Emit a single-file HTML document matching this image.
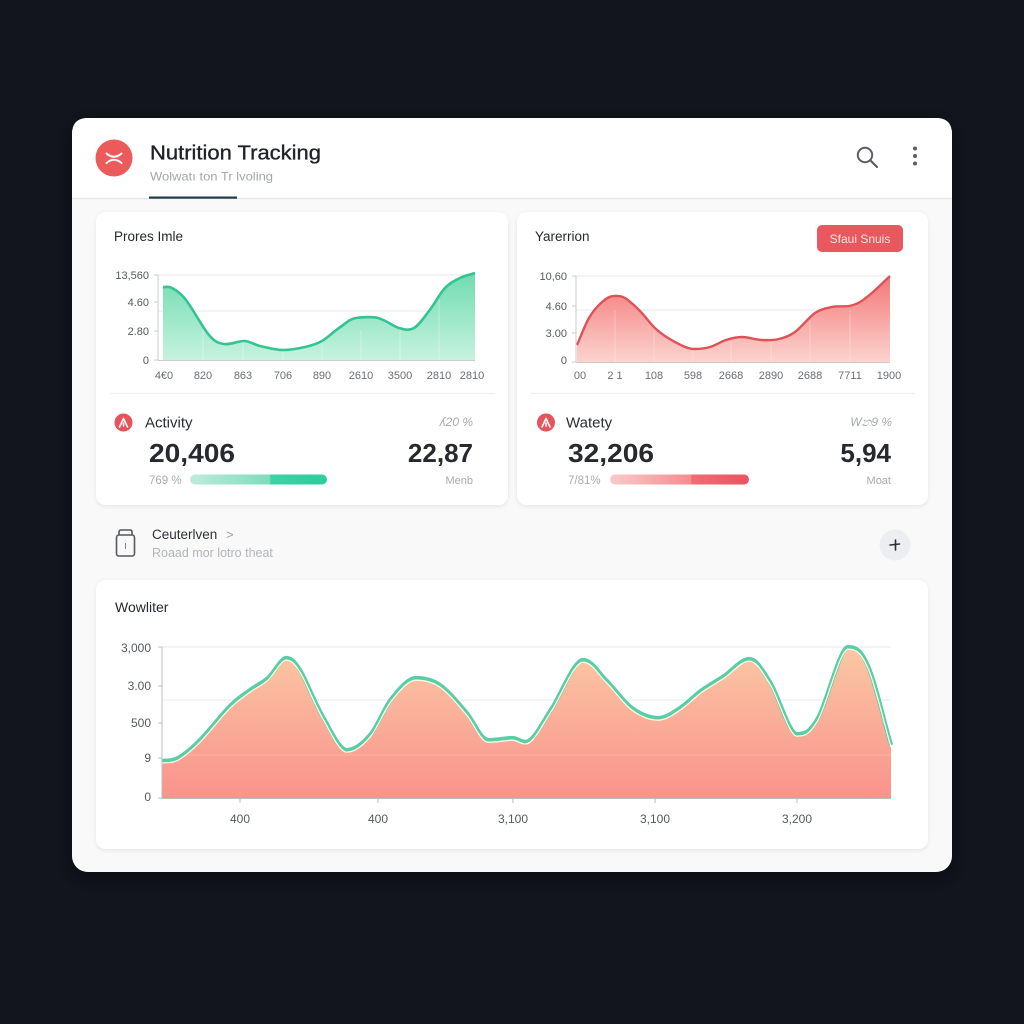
<!DOCTYPE html>
<html><head><meta charset="utf-8"><style>
html,body{margin:0;padding:0;background:#12151d;}
svg{display:block;}
text{font-family:"Liberation Sans",sans-serif;}
</style></head><body>
<svg width="1024" height="1024" viewBox="0 0 1024 1024" xmlns="http://www.w3.org/2000/svg">
<defs>
<filter id="sh" x="-10%" y="-10%" width="120%" height="130%"><feDropShadow dx="0" dy="1.5" stdDeviation="2.5" flood-color="#000" flood-opacity="0.08"/></filter>
<filter id="sh2" x="-10%" y="-10%" width="120%" height="120%"><feDropShadow dx="0" dy="6" stdDeviation="10" flood-color="#000" flood-opacity="0.5"/></filter>
<linearGradient id="gG" x1="0" y1="273" x2="0" y2="360" gradientUnits="userSpaceOnUse"><stop offset="0" stop-color="#6fdcb0"/><stop offset="1" stop-color="#c6f2df"/></linearGradient>
<linearGradient id="gR" x1="0" y1="276" x2="0" y2="362" gradientUnits="userSpaceOnUse"><stop offset="0" stop-color="#f37878"/><stop offset="1" stop-color="#fcd3ce"/></linearGradient>
<linearGradient id="gB" x1="0" y1="647" x2="0" y2="798" gradientUnits="userSpaceOnUse"><stop offset="0" stop-color="#fbc8a4"/><stop offset="1" stop-color="#fa928c"/></linearGradient>
<linearGradient id="bG" x1="0" y1="0" x2="1" y2="0"><stop offset="0" stop-color="#bdebdc"/><stop offset="0.58" stop-color="#7fdcbd"/><stop offset="0.59" stop-color="#3dd2a4"/><stop offset="1" stop-color="#2ccd9d"/></linearGradient>
<linearGradient id="bR" x1="0" y1="0" x2="1" y2="0"><stop offset="0" stop-color="#fbcaca"/><stop offset="0.58" stop-color="#f58c8f"/><stop offset="0.59" stop-color="#f06c73"/><stop offset="1" stop-color="#ea5460"/></linearGradient>
<path id="bl" d="M162,761 C167.3,760 171.7,761.5 178,758 C184.3,754.5 191.3,748.7 200,740 C208.7,731.3 221.7,714.3 230,706 C238.3,697.7 243.7,694.7 250,690 C256.3,685.3 262,683.3 268,678 C274,672.7 281,658 286,658 C291,658 294,660.5 300,670 C306,679.5 314.2,701.7 322,715 C329.8,728.3 339,750 347,750 C355,750 362.5,743.7 370,735 C377.5,726.3 384.3,707.5 392,698 C399.7,688.5 408,678 416,678 C424,678 431.7,679.3 440,685 C448.3,690.7 458,702.8 466,712 C474,721.2 480.3,739.5 488,740 C495.7,740.5 505,738 512,738 C519,738 523.3,745 530,740 C536.7,735 543.2,721.3 552,708 C560.8,694.7 574,660 583,660 C592,660 597.8,672 606,680 C614.2,688 623.3,701.7 632,708 C640.7,714.3 650,718 658,718 C666,718 672.7,712.7 680,708 C687.3,703.3 694.7,695.3 702,690 C709.3,684.7 716.2,681.2 724,676 C731.8,670.8 741.3,659 749,659 C756.7,659 762,669.5 770,682 C778,694.5 789,734 797,734 C805,734 809.5,732.5 818,718 C826.5,703.5 840,647 848,647 C856,647 860.8,649.7 868,666 C875.2,682.3 883.3,718.7 891,745"/>
</defs>

<rect x="0" y="0" width="1024" height="1024" fill="#12151d"/>
<!-- main panel -->
<rect x="72" y="118" width="880" height="754" rx="16" fill="#f9f9fa" filter="url(#sh2)"/>
<path d="M72,198 L72,134 Q72,118 88,118 L936,118 Q952,118 952,134 L952,198 Z" fill="#ffffff"/>
<line x1="72" y1="198.5" x2="952" y2="198.5" stroke="#e6e7ea" stroke-width="1.2"/>
<rect x="149" y="196.5" width="88" height="2.2" fill="#1f3b47"/>

<!-- header -->
<circle cx="114" cy="158" r="18.5" fill="#ec5b5b"/>
<path d="M106.5,153.5 Q114,160 121.5,153.5 M106.5,163 Q114,156.5 121.5,163" stroke="#fff" stroke-width="2" fill="none" stroke-linecap="round"/>
<text x="150" y="159.5" font-size="20.5" fill="#1f2226" stroke="#1f2226" stroke-width="0.35" textLength="171" lengthAdjust="spacingAndGlyphs">Nutrition Tracking</text>
<text x="150" y="180.5" font-size="12" fill="#a3a6aa" textLength="123" lengthAdjust="spacingAndGlyphs">Wolwatı ton Tr lvoling</text>
<circle cx="865" cy="155" r="7.2" fill="none" stroke="#5a5e63" stroke-width="2"/>
<line x1="870.5" y1="160.5" x2="877" y2="167" stroke="#5a5e63" stroke-width="2.2" stroke-linecap="round"/>
<circle cx="915" cy="148.5" r="2" fill="#5a5e63"/>
<circle cx="915" cy="156" r="2" fill="#5a5e63"/>
<circle cx="915" cy="163.5" r="2" fill="#5a5e63"/>

<!-- card 1 -->
<rect x="96" y="212" width="412" height="293" rx="10" fill="#fff" filter="url(#sh)"/>
<text x="114" y="241" font-size="13.5" fill="#25282c">Prores Imle</text>
<line x1="158" y1="275" x2="475" y2="275" stroke="#e6e7ea"/>
<line x1="158" y1="311" x2="475" y2="311" stroke="#e6e7ea"/>
<path d="M163,287 C166,287.3 168.2,285.8 172,288 C175.8,290.2 179.8,292.2 186,300 C192.2,307.8 202.7,327.7 209,335 C215.3,342.3 218.2,343 224,344 C229.8,345 238,341 244,341 C250,341 253.5,344.5 260,346 C266.5,347.5 275.5,350 283,350 C290.5,350 298.5,348.5 305,347 C311.5,345.5 316.3,344.2 322,341 C327.7,337.8 333.3,331.8 339,328 C344.7,324.2 349.5,318.8 356,318 C362.5,317.2 370.8,316.3 378,318 C385.2,319.7 393,326.3 399,328 C405,329.7 409,330.8 414,328 C419,325.2 423.8,317.7 429,311 C434.2,304.3 439.8,293.5 445,288 C450.2,282.5 455,280.5 460,278 C465,275.5 470,274.7 475,273 L475,360 L163,360 Z" fill="url(#gG)"/>
<g stroke="#ffffff" stroke-opacity="0.35" stroke-width="1"><line x1="203" y1="330" x2="203" y2="360"/><line x1="243" y1="340" x2="243" y2="360"/><line x1="283" y1="345" x2="283" y2="360"/><line x1="322" y1="340" x2="322" y2="360"/><line x1="361" y1="330" x2="361" y2="360"/><line x1="400" y1="330" x2="400" y2="360"/><line x1="439" y1="300" x2="439" y2="360"/></g>
<path d="M163,287 C166,287.3 168.2,285.8 172,288 C175.8,290.2 179.8,292.2 186,300 C192.2,307.8 202.7,327.7 209,335 C215.3,342.3 218.2,343 224,344 C229.8,345 238,341 244,341 C250,341 253.5,344.5 260,346 C266.5,347.5 275.5,350 283,350 C290.5,350 298.5,348.5 305,347 C311.5,345.5 316.3,344.2 322,341 C327.7,337.8 333.3,331.8 339,328 C344.7,324.2 349.5,318.8 356,318 C362.5,317.2 370.8,316.3 378,318 C385.2,319.7 393,326.3 399,328 C405,329.7 409,330.8 414,328 C419,325.2 423.8,317.7 429,311 C434.2,304.3 439.8,293.5 445,288 C450.2,282.5 455,280.5 460,278 C465,275.5 470,274.7 475,273" fill="none" stroke="#34c493" stroke-width="2.6"/>
<line x1="158" y1="275" x2="158" y2="360" stroke="#c9cbcf"/>
<line x1="158" y1="360.5" x2="475" y2="360.5" stroke="#c9cbcf"/>
<g stroke="#c9cbcf"><line x1="154" y1="275" x2="158" y2="275"/><line x1="154" y1="302" x2="158" y2="302"/><line x1="154" y1="331" x2="158" y2="331"/><line x1="154" y1="360" x2="158" y2="360"/></g>
<g font-size="11" fill="#55595e" text-anchor="end"><text x="149" y="279">13,560</text><text x="149" y="306">4.60</text><text x="149" y="335">2.80</text><text x="149" y="364">0</text></g>
<g font-size="11" fill="#6a6e73" text-anchor="middle"><text x="164" y="379">4€0</text><text x="203" y="379">820</text><text x="243" y="379">863</text><text x="283" y="379">706</text><text x="322" y="379">890</text><text x="361" y="379">2610</text><text x="400" y="379">3500</text><text x="439" y="379">2810</text><text x="472" y="379">2810</text></g>
<line x1="110" y1="393.5" x2="495" y2="393.5" stroke="#efeff1" stroke-width="1.2"/>
<circle cx="123.5" cy="422.5" r="9" fill="#e9515b"/>
<path d="M119.5,427 L123.5,418.5 L127.5,427 M123.5,423 L123.5,426" stroke="#fff" stroke-width="1.6" fill="none" stroke-linecap="round" stroke-linejoin="round"/>
<text x="145" y="427.5" font-size="15" fill="#2a2d31">Activity</text>
<text x="473" y="426" font-size="12" fill="#a6a9ad" text-anchor="end" font-style="italic">ʎ20 %</text>
<text x="149" y="462" font-size="26" font-weight="bold" fill="#26292d" textLength="86" lengthAdjust="spacingAndGlyphs">20,406</text>
<text x="473" y="462" font-size="26" font-weight="bold" fill="#26292d" text-anchor="end">22,87</text>
<text x="149" y="484" font-size="11.5" fill="#a8abaf">769 %</text>
<rect x="190" y="474.5" width="137" height="10" rx="5" fill="url(#bG)"/>
<text x="473" y="484" font-size="11" fill="#a8abaf" text-anchor="end">Menb</text>

<!-- card 2 -->
<rect x="517" y="212" width="411" height="293" rx="10" fill="#fff" filter="url(#sh)"/>
<text x="535" y="241" font-size="13.5" fill="#25282c">Yarerrion</text>
<rect x="817" y="225" width="86" height="27" rx="5" fill="#e9575f"/>
<text x="860" y="243" font-size="12" fill="#fde6e6" text-anchor="middle">Sfaui Snuis</text>
<line x1="576" y1="276" x2="890" y2="276" stroke="#e6e7ea"/>
<line x1="576" y1="310" x2="890" y2="310" stroke="#e6e7ea"/>
<path d="M577,345 C581,336 584.8,325.2 589,318 C593.2,310.8 597.8,305.7 602,302 C606.2,298.3 610.2,296 614,296 C617.8,296 620.7,295.5 625,298 C629.3,300.5 634.8,305.8 640,311 C645.2,316.2 650.2,323.8 656,329 C661.8,334.2 668.7,338.7 675,342 C681.3,345.3 688.2,349 694,349 C699.8,349 704.7,348.5 710,347 C715.3,345.5 720.7,341.7 726,340 C731.3,338.3 736,337 742,337 C748,337 755.8,339.7 762,340 C768.2,340.3 773.5,340.3 779,339 C784.5,337.7 789,336.3 795,332 C801,327.7 808.8,317.2 815,313 C821.2,308.8 826.3,308.2 832,307 C837.7,305.8 844.3,306.8 849,306 C853.7,305.2 856,304.3 860,302 C864,299.7 868,296.3 873,292 C878,287.7 884.3,281.3 890,276 L890,362 L577,362 Z" fill="url(#gR)"/>
<g stroke="#ffffff" stroke-opacity="0.3" stroke-width="1"><line x1="615" y1="310" x2="615" y2="362"/><line x1="654" y1="330" x2="654" y2="362"/><line x1="693" y1="350" x2="693" y2="362"/><line x1="731" y1="342" x2="731" y2="362"/><line x1="771" y1="342" x2="771" y2="362"/><line x1="810" y1="320" x2="810" y2="362"/><line x1="850" y1="310" x2="850" y2="362"/></g>
<path d="M577,345 C581,336 584.8,325.2 589,318 C593.2,310.8 597.8,305.7 602,302 C606.2,298.3 610.2,296 614,296 C617.8,296 620.7,295.5 625,298 C629.3,300.5 634.8,305.8 640,311 C645.2,316.2 650.2,323.8 656,329 C661.8,334.2 668.7,338.7 675,342 C681.3,345.3 688.2,349 694,349 C699.8,349 704.7,348.5 710,347 C715.3,345.5 720.7,341.7 726,340 C731.3,338.3 736,337 742,337 C748,337 755.8,339.7 762,340 C768.2,340.3 773.5,340.3 779,339 C784.5,337.7 789,336.3 795,332 C801,327.7 808.8,317.2 815,313 C821.2,308.8 826.3,308.2 832,307 C837.7,305.8 844.3,306.8 849,306 C853.7,305.2 856,304.3 860,302 C864,299.7 868,296.3 873,292 C878,287.7 884.3,281.3 890,276" fill="none" stroke="#dd5358" stroke-width="2.4"/>
<line x1="576" y1="276" x2="576" y2="362" stroke="#c9cbcf"/>
<line x1="576" y1="362.5" x2="890" y2="362.5" stroke="#c9cbcf"/>
<g stroke="#c9cbcf"><line x1="572" y1="276" x2="576" y2="276"/><line x1="572" y1="306" x2="576" y2="306"/><line x1="572" y1="333" x2="576" y2="333"/><line x1="572" y1="362" x2="576" y2="362"/></g>
<g font-size="11" fill="#55595e" text-anchor="end"><text x="567" y="280">10,60</text><text x="567" y="310">4.60</text><text x="567" y="337">3.00</text><text x="567" y="364">0</text></g>
<g font-size="11" fill="#6a6e73" text-anchor="middle"><text x="580" y="379">00</text><text x="615" y="379">2 1</text><text x="654" y="379">108</text><text x="693" y="379">598</text><text x="731" y="379">2668</text><text x="771" y="379">2890</text><text x="810" y="379">2688</text><text x="850" y="379">7711</text><text x="889" y="379">1900</text></g>
<line x1="531" y1="393.5" x2="915" y2="393.5" stroke="#efeff1" stroke-width="1.2"/>
<circle cx="546" cy="422.5" r="9" fill="#e9515b"/>
<path d="M542,427 L546,418.5 L550,427 M546,423 L546,426" stroke="#fff" stroke-width="1.6" fill="none" stroke-linecap="round" stroke-linejoin="round"/>
<text x="566" y="427.5" font-size="15" fill="#2a2d31">Watety</text>
<text x="892" y="426" font-size="12" fill="#a6a9ad" text-anchor="end" font-style="italic">Wන9 %</text>
<text x="568" y="462" font-size="26" font-weight="bold" fill="#26292d" textLength="86" lengthAdjust="spacingAndGlyphs">32,206</text>
<text x="891" y="462" font-size="26" font-weight="bold" fill="#26292d" text-anchor="end">5,94</text>
<text x="568" y="484" font-size="11.5" fill="#a8abaf">7/81%</text>
<rect x="610" y="474.5" width="139" height="10" rx="5" fill="url(#bR)"/>
<text x="891" y="484" font-size="11" fill="#a8abaf" text-anchor="end">Moat</text>

<!-- middle row -->
<path d="M119,535 L119,532 Q119,530 121,530 L130,530 Q132,530 132,532 L132,535" fill="none" stroke="#55595e" stroke-width="1.6"/>
<rect x="116.5" y="535" width="18" height="21" rx="2.5" fill="none" stroke="#55595e" stroke-width="1.6"/>
<text x="125.5" y="549" font-size="8" fill="#55595e" text-anchor="middle">I</text>
<text x="152" y="539" font-size="13.5" fill="#2f3236">Ceuterlven</text>
<text x="226" y="539" font-size="13" fill="#9fa2a6">&gt;</text>
<text x="152" y="557" font-size="12.5" fill="#b2b5b9">Roaad mor lotro theat</text>
<circle cx="895" cy="545" r="15.5" fill="#eceef1"/>
<path d="M890,545 L899.5,544 M895.5,540 L895.5,550" stroke="#2d3034" stroke-width="1.6" stroke-linecap="round"/>

<!-- bottom card -->
<rect x="96" y="580" width="832" height="269" rx="10" fill="#fff" filter="url(#sh)"/>
<text x="115" y="612" font-size="14" fill="#25282c">Wowliter</text>
<line x1="162" y1="647" x2="891" y2="647" stroke="#e6e7ea"/>
<line x1="162" y1="700" x2="891" y2="700" stroke="#e6e7ea"/>
<path d="M162,761 C167.3,760 171.7,761.5 178,758 C184.3,754.5 191.3,748.7 200,740 C208.7,731.3 221.7,714.3 230,706 C238.3,697.7 243.7,694.7 250,690 C256.3,685.3 262,683.3 268,678 C274,672.7 281,658 286,658 C291,658 294,660.5 300,670 C306,679.5 314.2,701.7 322,715 C329.8,728.3 339,750 347,750 C355,750 362.5,743.7 370,735 C377.5,726.3 384.3,707.5 392,698 C399.7,688.5 408,678 416,678 C424,678 431.7,679.3 440,685 C448.3,690.7 458,702.8 466,712 C474,721.2 480.3,739.5 488,740 C495.7,740.5 505,738 512,738 C519,738 523.3,745 530,740 C536.7,735 543.2,721.3 552,708 C560.8,694.7 574,660 583,660 C592,660 597.8,672 606,680 C614.2,688 623.3,701.7 632,708 C640.7,714.3 650,718 658,718 C666,718 672.7,712.7 680,708 C687.3,703.3 694.7,695.3 702,690 C709.3,684.7 716.2,681.2 724,676 C731.8,670.8 741.3,659 749,659 C756.7,659 762,669.5 770,682 C778,694.5 789,734 797,734 C805,734 809.5,732.5 818,718 C826.5,703.5 840,647 848,647 C856,647 860.8,649.7 868,666 C875.2,682.3 883.3,718.7 891,745 L891,798 L162,798 Z" fill="url(#gB)"/>
<line x1="162" y1="755" x2="891" y2="755" stroke="#ffffff" stroke-opacity="0.18"/>
<use href="#bl" fill="none" stroke="#58cda6" stroke-width="4.2" stroke-linejoin="round"/>
<use href="#bl" transform="translate(0,2.2)" fill="none" stroke="#fffbe8" stroke-width="1.3"/>
<line x1="162" y1="647" x2="162" y2="798" stroke="#b9bcc0"/>
<line x1="162" y1="798.5" x2="891" y2="798.5" stroke="#b9bcc0"/>
<g stroke="#b9bcc0"><line x1="158" y1="647" x2="162" y2="647"/><line x1="158" y1="686" x2="162" y2="686"/><line x1="158" y1="723" x2="162" y2="723"/><line x1="158" y1="758" x2="162" y2="758"/><line x1="158" y1="798" x2="162" y2="798"/>
<line x1="240" y1="798" x2="240" y2="803"/><line x1="378" y1="798" x2="378" y2="803"/><line x1="513" y1="798" x2="513" y2="803"/><line x1="655" y1="798" x2="655" y2="803"/><line x1="797" y1="798" x2="797" y2="803"/></g>
<g font-size="12" fill="#55595e" text-anchor="end"><text x="151" y="652">3,000</text><text x="151" y="690">3.00</text><text x="151" y="727">500</text><text x="151" y="762">9</text><text x="151" y="801">0</text></g>
<g font-size="12" fill="#55595e" text-anchor="middle"><text x="240" y="823">400</text><text x="378" y="823">400</text><text x="513" y="823">3,100</text><text x="655" y="823">3,100</text><text x="797" y="823">3,200</text></g>
</svg>
</body></html>
